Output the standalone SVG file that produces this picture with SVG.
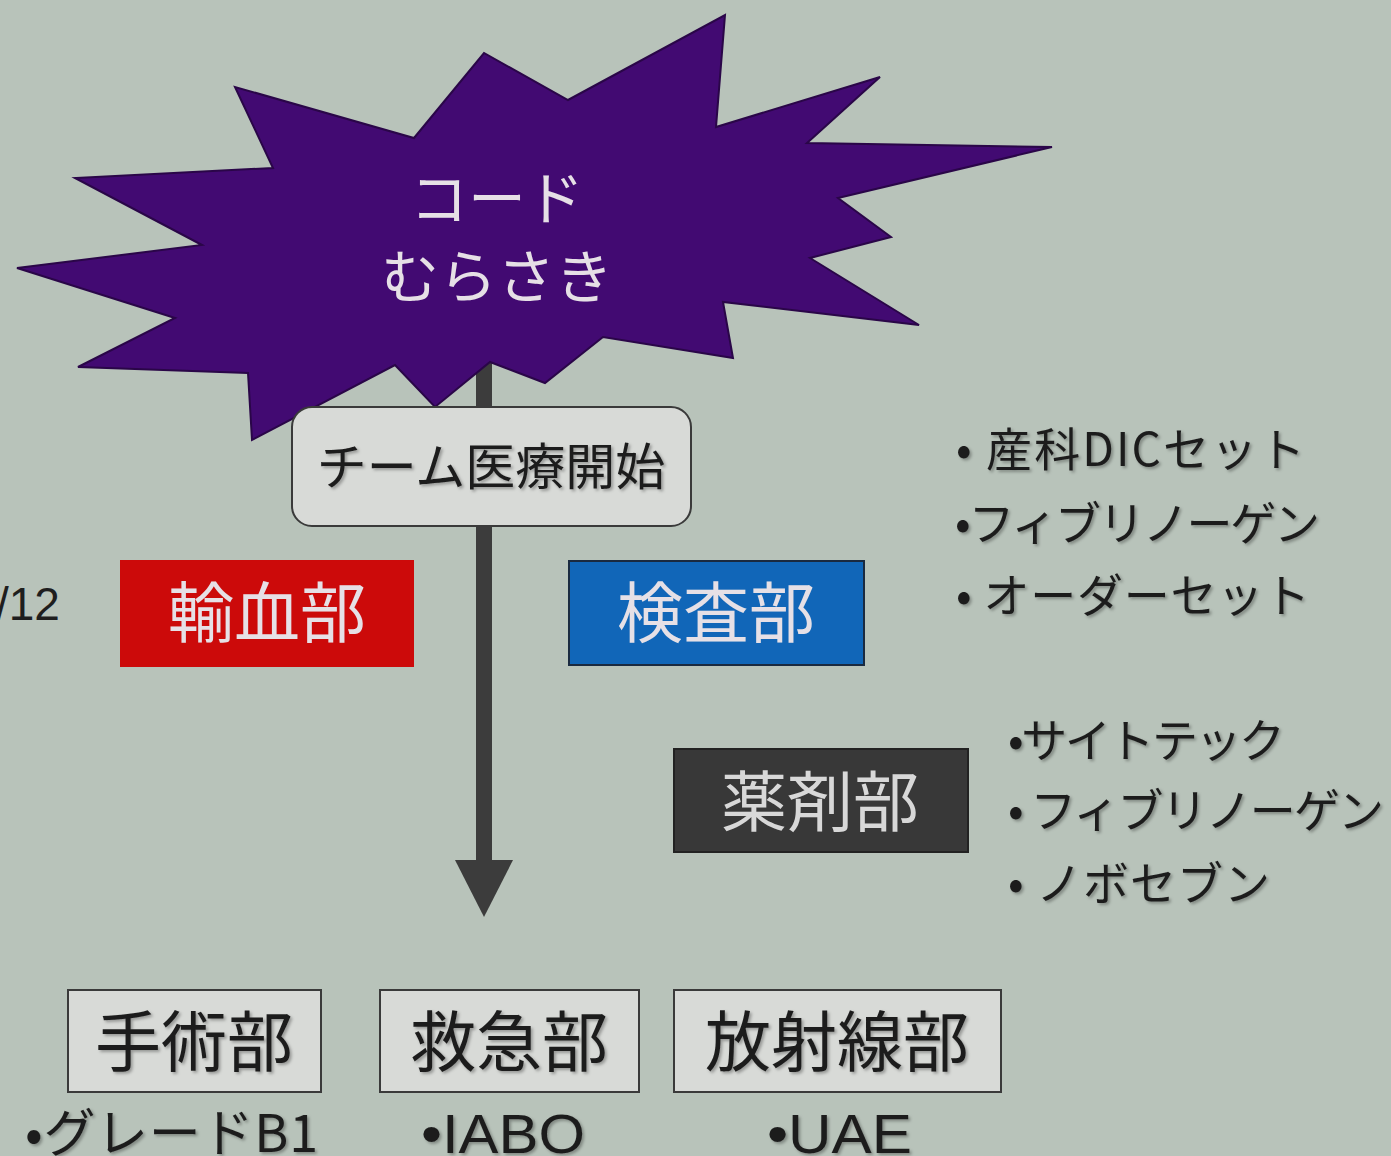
<svg xmlns="http://www.w3.org/2000/svg" width="1391" height="1156" viewBox="0 0 1391 1156">
  <defs>
    <style>
      text { font-family: "Noto Sans CJK JP", "Liberation Sans", sans-serif; }
      .dark { fill: #1e1e1e; }
      .light { fill: #e6e0e6; }
      .box-gray { fill: #d8dad7; stroke: #3a3a3a; stroke-width: 2; }
      .lbl { font-size: 66px; text-anchor: middle; }
      .item { font-size: 46px; }
      .bottom { font-size: 52px; }
      .latin { font-family: "Liberation Sans", "Noto Sans CJK JP", sans-serif; font-size: 56px; }
    </style>
    <filter id="sh" x="-10%" y="-10%" width="130%" height="140%">
      <feDropShadow dx="2" dy="2" stdDeviation="1.5" flood-color="#000" flood-opacity="0.3"/>
    </filter>
  </defs>
  <rect x="0" y="0" width="1391" height="1156" fill="#b8c3ba"/>

  <g id="connectors">
    <line x1="484" y1="350" x2="484" y2="866" stroke="#3c3c3c" stroke-width="16"/>
    <polygon points="455,860 513,860 484,917" fill="#3c3c3c"/>
  </g>

  <g id="code-murasaki">
    <polygon points="725,15 716,127 880,77 807,143 1052,147 838,198 891,237 810,258 919,325 723,302 733,358 603,337 545,383 490,362 435,407 395,365 252,440 248,373 78,367 175,318 17,268 202,245 75,178 273,168 235,87 414,138 484,53 568,100" fill="#420a72" stroke="#2a0648" stroke-width="2" stroke-linejoin="miter"/>
    <text x="497" y="220" class="light" style="font-size:58px" text-anchor="middle">コード</text>
    <text x="497" y="298" class="light" style="font-size:58px" text-anchor="middle">むらさき</text>
  </g>

  <g id="team-start">
    <rect x="292" y="407" width="399" height="119" rx="20" ry="20" fill="#d8dad7" stroke="#3a3a3a" stroke-width="2"/>
    <text x="491" y="485" class="dark" style="font-size:50px" text-anchor="middle" filter="url(#sh)">チーム医療開始</text>
  </g>

  <g id="label-12">
    <text x="-4" y="620" class="dark" style="font-size:46px; font-family:'Liberation Sans', sans-serif">/12</text>
  </g>

  <g id="yuketsubu">
    <rect x="120" y="560" width="294" height="107" fill="#cc0a0a"/>
    <text x="267" y="637" class="lbl light">輸血部</text>
  </g>

  <g id="kensabu">
    <rect x="569" y="561" width="295" height="104" fill="#1166b8" stroke="#1a2a40" stroke-width="2"/>
    <text x="716" y="637" class="lbl light">検査部</text>
  </g>

  <g id="kensa-items">
    <text x="956" y="466" class="item dark" filter="url(#sh)" textLength="349">• 産科DICセット</text>
    <text x="955" y="540" class="item dark" filter="url(#sh)" textLength="365">•フィブリノーゲン</text>
    <text x="956" y="612" class="item dark" filter="url(#sh)" textLength="354">• オーダーセット</text>
  </g>

  <g id="yakuzaibu">
    <rect x="674" y="749" width="294" height="103" fill="#383838" stroke="#222" stroke-width="2"/>
    <text x="820" y="826" class="lbl" style="fill:#d8d8d8">薬剤部</text>
  </g>

  <g id="yakuzai-items">
    <text x="1008" y="757" class="item dark" filter="url(#sh)" textLength="277">•サイトテック</text>
    <text x="1008" y="827" class="item dark" filter="url(#sh)" textLength="376">• フィブリノーゲン</text>
    <text x="1008" y="900" class="item dark" filter="url(#sh)" textLength="262">• ノボセブン</text>
  </g>

  <g id="shujutsubu">
    <rect x="68" y="990" width="253" height="102" class="box-gray"/>
    <text x="194" y="1066" class="lbl dark" filter="url(#sh)">手術部</text>
    <text x="25" y="1152" class="bottom dark" filter="url(#sh)" textLength="293">•グレードB1</text>
  </g>

  <g id="kyukyubu">
    <rect x="380" y="990" width="259" height="102" class="box-gray"/>
    <text x="509" y="1066" class="lbl dark" filter="url(#sh)">救急部</text>
    <text x="421" y="1153" class="latin dark" filter="url(#sh)" textLength="164" lengthAdjust="spacingAndGlyphs">•IABO</text>
  </g>

  <g id="hoshasenbu">
    <rect x="674" y="990" width="327" height="102" class="box-gray"/>
    <text x="837" y="1066" class="lbl dark" filter="url(#sh)">放射線部</text>
    <text x="767" y="1153" class="latin dark" filter="url(#sh)" textLength="145" lengthAdjust="spacingAndGlyphs">•UAE</text>
  </g>
</svg>
